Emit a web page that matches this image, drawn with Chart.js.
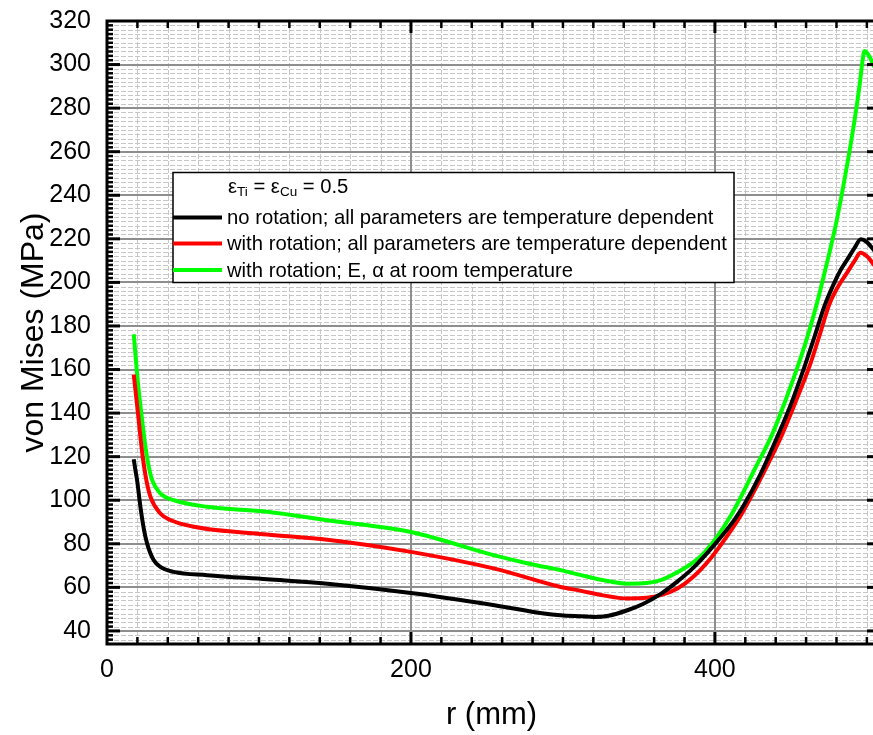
<!DOCTYPE html>
<html>
<head>
<meta charset="utf-8">
<script src="https://cdn.jsdelivr.net/npm/chart.js@4"></script>
<style>
html, body { margin: 0; padding: 0; background: #fff; overflow: hidden; }
#wrap { width: 880px; height: 735px; }
</style>
</head>
<body>
<div id="wrap"><canvas id="vm" width="880" height="735"></canvas></div>
<script>
'use strict';
// radius r (mm) and von Mises stress (MPa), one pair of arrays per case
var rNoRot = [17.6, 18.7, 19.8, 22, 24.2, 26.4, 30.8, 35.1, 43.9, 65.9, 105.4, 145, 200, 255, 287.5, 298.5, 312, 320.5, 330, 342.4, 353, 364.4, 375, 386.4, 399.6, 412.8, 419.3, 430, 441, 450, 458.8, 466, 472, 478, 483, 488, 492, 496, 500, 505];
var vmNoRot = [118.8, 113.8, 109.2, 96.9, 87, 80.1, 72.4, 69.4, 67.1, 65.6, 63.7, 61.7, 57.4, 51.8, 48, 47.2, 46.7, 46.4, 47, 49.5, 52.5, 57, 62.5, 69.4, 79.5, 91, 98, 112, 129, 144, 161, 176, 189, 199, 206, 211.5, 216, 219.8, 218.5, 214.5];

var rRot = [17.6, 20.4, 22, 23.5, 25.9, 28.6, 35.1, 41.7, 57.1, 105.4, 145, 200, 255, 298.5, 312, 325, 342.4, 355, 364.4, 375.3, 386, 397.4, 408, 417, 422.6, 433, 444.5, 453, 462.1, 469, 475.3, 481, 487, 492, 495.8, 500, 505];
var vmRot = [157.7, 139.8, 129, 119.9, 109.2, 101.5, 93.9, 90.9, 87.8, 84.3, 81.9, 76.3, 68.6, 60.2, 58.4, 56.5, 54.9, 55.2, 56.4, 59.5, 65, 73.5, 83.5, 93, 100, 114, 130.6, 145, 161.2, 176, 190, 198, 204.5, 210, 213.6, 212, 207.8];

var rRotRoom = [17.6, 20.2, 22.6, 25.3, 27.5, 29.7, 35.1, 43.9, 65.9, 105.4, 145, 200, 255, 280, 298.5, 312, 325, 342.4, 355, 364.4, 375, 386.4, 393, 401.7, 410.5, 416, 426, 437.9, 446, 454.4, 460, 466.6, 472, 479.7, 486, 491.8, 495.1, 497.2, 498.4, 501, 505];
var vmRotRoom = [176.2, 155, 139.8, 124.5, 115.3, 109.2, 103.1, 100, 97, 94.7, 90.8, 85.4, 74.7, 70.5, 67.9, 65.6, 63.5, 61.7, 62, 63.3, 66.8, 71.8, 76, 83.5, 93, 100, 114, 130.6, 145, 161.2, 173, 189, 204, 227, 250, 274, 290, 302, 306.2, 304.5, 298.8];

var seriesLabels = [
  'no rotation; all parameters are temperature dependent',
  'with rotation; all parameters are temperature dependent',
  'with rotation; E, \u03b1 at room temperature'
];
var seriesColors = ['#000000', '#ff0000', '#00ff00'];

var xTicks = [0, 200, 400];
var yTicks = [40, 60, 80, 100, 120, 140, 160, 180, 200, 220, 240, 260, 280, 300, 320];
var xMinorStep = 20;
var yMinorStep = 2;

function pairs(xs, ys) {
  return xs.map(function (x, i) { return { x: x, y: ys[i] }; });
}

Chart.defaults.font.family = "'Liberation Sans', Arial, sans-serif";
Chart.defaults.color = '#000';

// dashed minor grid + solid major grid under the curves
var gridPlugin = {
  id: 'gridPlugin',
  beforeDatasetsDraw: function (chart) {
    var ctx = chart.ctx, a = chart.chartArea;
    var xs = chart.scales.x, ys = chart.scales.y;
    var v, p;
    ctx.save();
    ctx.strokeStyle = '#c6c6c6';
    ctx.lineWidth = 1;
    ctx.setLineDash([5, 2]);
    for (v = xMinorStep; v < xs.max; v += xMinorStep) {
      if (v % 200 === 0) continue;
      p = Math.round(xs.getPixelForValue(v)) + 0.5;
      ctx.beginPath(); ctx.moveTo(p, a.top); ctx.lineTo(p, a.bottom); ctx.stroke();
    }
    for (v = 36; v < ys.max; v += yMinorStep) {
      if (v % 20 === 0) continue;
      p = Math.round(ys.getPixelForValue(v)) + 0.5;
      ctx.beginPath(); ctx.moveTo(a.left, p); ctx.lineTo(a.right, p); ctx.stroke();
    }
    ctx.setLineDash([]);
    ctx.strokeStyle = '#8e8e8e';
    ctx.lineWidth = 2;
    xTicks.forEach(function (t) {
      if (t === 0) return;
      p = Math.round(xs.getPixelForValue(t));
      ctx.beginPath(); ctx.moveTo(p, a.top); ctx.lineTo(p, a.bottom); ctx.stroke();
    });
    yTicks.forEach(function (t) {
      p = Math.round(ys.getPixelForValue(t));
      ctx.beginPath(); ctx.moveTo(a.left, p); ctx.lineTo(a.right, p); ctx.stroke();
    });
    ctx.restore();
  }
};

// boxed legend with the emissivity heading
var legendBox = {
  id: 'legendBox',
  afterDatasetsDraw: function (chart) {
    var ctx = chart.ctx;
    var bx = 173, by = 172.5, bw = 561, bh = 110;
    ctx.save();
    ctx.fillStyle = '#fff';
    ctx.fillRect(bx, by, bw, bh);
    ctx.strokeStyle = '#000';
    ctx.lineWidth = 1.5;
    ctx.strokeRect(bx, by, bw, bh);

    // heading: eps_Ti = eps_Cu = 0.5
    var big = "20.25px 'Liberation Sans', Arial, sans-serif";
    var small = "13.5px 'Liberation Sans', Arial, sans-serif";
    var x = 228, y = 187;
    ctx.fillStyle = '#000';
    ctx.textBaseline = 'middle';
    ctx.textAlign = 'left';
    [['\u03b5', big, 0], ['Ti', small, 5.5], [' = \u03b5', big, 0], ['Cu', small, 5.5], [' = 0.5', big, 0]].forEach(function (s) {
      ctx.font = s[1];
      ctx.fillText(s[0], x, y + s[2]);
      x += ctx.measureText(s[0]).width;
    });

    ctx.font = big;
    var rows = [217.5, 243.5, 270];
    chart.data.datasets.forEach(function (ds, i) {
      ctx.strokeStyle = ds.borderColor;
      ctx.lineWidth = 4;
      ctx.beginPath(); ctx.moveTo(bx, rows[i]); ctx.lineTo(222, rows[i]); ctx.stroke();
      ctx.fillStyle = '#000';
      ctx.fillText(ds.label, 227, rows[i] + 1);
    });
    ctx.restore();
  }
};

// axis frame with inward tick marks on all four sides
var framePlugin = {
  id: 'framePlugin',
  afterDraw: function (chart) {
    var ctx = chart.ctx, a = chart.chartArea;
    var xs = chart.scales.x, ys = chart.scales.y;
    var v, p, major;
    ctx.save();
    ctx.strokeStyle = '#000';
    ctx.lineCap = 'butt';
    // left axis ticks, right axis major ticks
    for (v = 36; v < ys.max; v += yMinorStep) {
      major = v % 20 === 0;
      p = ys.getPixelForValue(v);
      ctx.lineWidth = major ? 3 : 2.5;
      ctx.beginPath(); ctx.moveTo(a.left, p); ctx.lineTo(a.left + (major ? 13 : 6), p); ctx.stroke();
      if (major) {
        ctx.beginPath(); ctx.moveTo(a.right, p); ctx.lineTo(a.right - 9, p); ctx.stroke();
      }
    }
    // bottom and top ticks
    for (v = xMinorStep; v < xs.max; v += xMinorStep) {
      major = v % 200 === 0;
      p = xs.getPixelForValue(v);
      ctx.lineWidth = major ? 3 : 2.5;
      ctx.beginPath(); ctx.moveTo(p, a.bottom); ctx.lineTo(p, a.bottom - (major ? 12 : 7)); ctx.stroke();
      ctx.beginPath(); ctx.moveTo(p, a.top); ctx.lineTo(p, a.top + (major ? 12 : 7)); ctx.stroke();
    }
    ctx.lineWidth = 3;
    ctx.strokeRect(a.left, a.top, a.right - a.left, a.bottom - a.top);
    ctx.restore();
  }
};

var chart = new Chart(document.getElementById('vm').getContext('2d'), {
  type: 'line',
  data: {
    datasets: [
      { label: seriesLabels[0], data: pairs(rNoRot, vmNoRot), borderColor: seriesColors[0] },
      { label: seriesLabels[1], data: pairs(rRot, vmRot), borderColor: seriesColors[1] },
      { label: seriesLabels[2], data: pairs(rRotRoom, vmRotRoom), borderColor: seriesColors[2] }
    ]
  },
  options: {
    responsive: false,
    animation: false,
    parsing: false,
    layout: { padding: { top: 21, right: 4, left: 0, bottom: 0 } },
    elements: {
      line: { borderWidth: 4, cubicInterpolationMode: 'monotone', fill: false },
      point: { radius: 0 }
    },
    plugins: {
      legend: { display: false },
      tooltip: { enabled: false }
    },
    scales: {
      x: {
        type: 'linear',
        min: 0,
        max: 506,
        grid: { display: false, drawTicks: false },
        border: { display: false },
        afterBuildTicks: function (s) { s.ticks = xTicks.map(function (v) { return { value: v }; }); },
        afterFit: function (s) { s.height = 91; },
        ticks: { padding: 11, maxRotation: 0, font: { size: 25 }, color: '#000' },
        title: { display: true, text: 'r (mm)', font: { size: 31 }, color: '#000', padding: { top: 0, bottom: 1 } }
      },
      y: {
        type: 'linear',
        min: 34,
        max: 320,
        grid: { display: false, drawTicks: false },
        border: { display: false },
        afterBuildTicks: function (s) { s.ticks = yTicks.map(function (v) { return { value: v }; }); },
        afterFit: function (s) { s.width = 107; s.paddingTop = 0; s.paddingBottom = 0; },
        ticks: { padding: 16, font: { size: 25 }, color: '#000' },
        title: { display: true, text: 'von Mises (MPa)', font: { size: 32 }, color: '#000', padding: { top: 15, bottom: 0 } }
      }
    }
  },
  plugins: [gridPlugin, legendBox, framePlugin]
});
</script>
</body>
</html>
